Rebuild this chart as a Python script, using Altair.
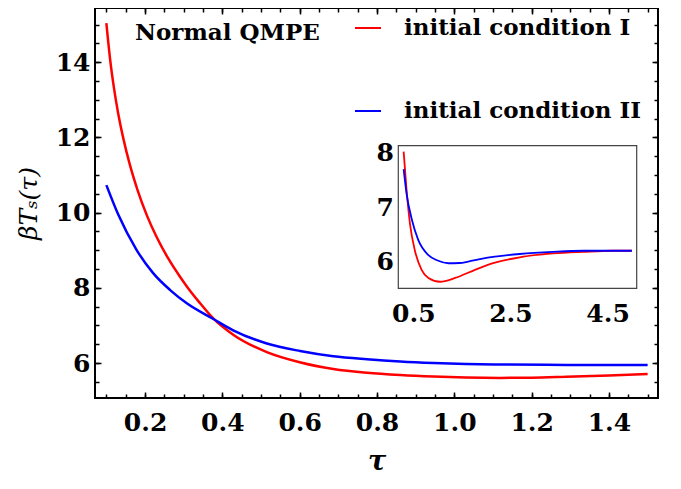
import altair as alt
import pandas as pd

FONT = "DejaVu Serif"

series_names = ["initial condition I", "initial condition II"]
series_colors = ["#ff0000", "#0000ff"]

# ---- main panel data ----
main_red_tau = [0.100, 0.110, 0.120, 0.130, 0.145, 0.160, 0.180, 0.205, 0.230, 0.260, 0.290,
                0.310, 0.340, 0.377, 0.430, 0.515, 0.600, 0.687, 0.774, 0.860, 0.946, 1.030,
                1.119, 1.200, 1.290, 1.400, 1.500]
main_red_val = [15.04, 14.05, 13.29, 12.67, 11.92, 11.30, 10.62, 9.92, 9.35, 8.78, 8.30,
                8.01, 7.62, 7.18, 6.74, 6.29, 6.02, 5.84, 5.74, 5.68, 5.64, 5.615,
                5.605, 5.61, 5.635, 5.67, 5.71]
main_blue_tau = [0.100, 0.131, 0.178, 0.221, 0.265, 0.308, 0.377, 0.428, 0.515, 0.601, 0.687,
                 0.774, 0.860, 0.946, 1.030, 1.119, 1.290, 1.500]
main_blue_val = [10.73, 9.94, 9.01, 8.39, 7.94, 7.59, 7.17, 6.87, 6.52, 6.32, 6.18,
                 6.10, 6.04, 6.00, 5.975, 5.96, 5.95, 5.95]

# ---- inset data ----
inset_red_tau = [0.30, 0.36, 0.43, 0.53, 0.67, 0.81, 1.05, 1.36, 1.77, 2.18, 2.69, 3.38,
                 4.00, 4.60, 5.00]
inset_red_val = [8.02, 7.32, 6.70, 6.21, 5.85, 5.70, 5.63, 5.70, 5.85, 5.98, 6.08, 6.15,
                 6.18, 6.20, 6.20]
inset_blue_tau = [0.30, 0.36, 0.47, 0.60, 0.81, 1.00, 1.22, 1.45, 1.63, 1.90, 2.18, 2.69,
                  3.38, 4.00, 5.00]
inset_blue_val = [7.70, 7.25, 6.77, 6.40, 6.12, 6.02, 5.97, 5.975, 6.00, 6.05, 6.09, 6.14,
                  6.18, 6.20, 6.20]

# ---- axes ----
main_x_domain = [0.0706, 1.5268]
main_y_domain = [5.07, 15.44]
inset_x_domain = [0.19, 5.10]
inset_y_domain = [5.51, 8.13]
inset_x_range = [303.3, 541.7]
inset_y_range = [280.3, 137.7]

x_major = [0.2, 0.4, 0.6, 0.8, 1.0, 1.2, 1.4]
x_minor = [0.10, 0.15, 0.20, 0.25, 0.30, 0.35, 0.40, 0.45, 0.50, 0.55, 0.60, 0.65, 0.70,
           0.75, 0.80, 0.85, 0.90, 0.95, 1.00, 1.05, 1.10, 1.15, 1.20, 1.25, 1.30, 1.35,
           1.40, 1.45, 1.50]
y_major = [6, 8, 10, 12, 14]
y_minor = [5.5, 6.0, 6.5, 7.0, 7.5, 8.0, 8.5, 9.0, 9.5, 10.0, 10.5, 11.0, 11.5, 12.0,
           12.5, 13.0, 13.5, 14.0, 14.5, 15.0]
inset_x_ticks = [0.5, 2.5, 4.5]
inset_y_ticks = [6, 7, 8]

note_text = ["Normal QMPE"]
note_tau = [0.413]
note_val = [14.59]


def frame(taus, vals, name):
    return pd.DataFrame({"tau": taus, "val": vals, "series": name})


main_df = pd.concat([frame(main_red_tau, main_red_val, series_names[0]),
                     frame(main_blue_tau, main_blue_val, series_names[1])])
inset_df = pd.concat([frame(inset_red_tau, inset_red_val, series_names[0]),
                      frame(inset_blue_tau, inset_blue_val, series_names[1])])
inset_box = pd.DataFrame({"x0": [inset_x_domain[0]], "x1": [inset_x_domain[1]],
                          "y0": [inset_y_domain[0]], "y1": [inset_y_domain[1]]})
note_df = pd.DataFrame({"tau": note_tau, "val": note_val, "label": note_text})

label_style = dict(labelFont=FONT, labelFontSize=25, labelFontWeight="bold",
                   labelColor="black", tickColor="black", grid=False, domain=False,
                   labelFlush=False, ticks=True, tickOpacity=1)


def mx():
    return alt.Scale(domain=main_x_domain, nice=False, zero=False)


def my():
    return alt.Scale(domain=main_y_domain, nice=False, zero=False)


color_enc = alt.Color(
    "series:N",
    scale=alt.Scale(domain=series_names, range=series_colors),
    legend=alt.Legend(title=None, orient="none", legendX=259, legendY=6,
                      symbolType="stroke", symbolSize=676, symbolStrokeWidth=2,
                      labelFont=FONT, labelFontSize=23, labelFontWeight="bold",
                      labelColor="black", labelOffset=22, rowPadding=57, padding=0,
                      labelLimit=400),
)

main_lines = alt.Chart(main_df).mark_line(strokeWidth=2.5, interpolate="monotone").encode(
    x=alt.X("tau:Q", scale=mx(), axis=alt.Axis(
        orient="bottom", values=x_major, format=".1f", offset=-6, tickSize=6, tickWidth=1.5,
        labelPadding=12, title="τ", titleFont=FONT, titleFontSize=27, titleFontWeight="bold",
        titleFontStyle="italic", titleColor="black", titlePadding=13, **label_style)),
    y=alt.Y("val:Q", scale=my(), axis=alt.Axis(
        orient="left", values=y_major, format="d", offset=-6, tickSize=6, tickWidth=1.5,
        labelPadding=5, title="βTₛ(τ)", titleFont=FONT, titleFontSize=25,
        titleFontWeight="normal", titleFontStyle="italic", titleColor="black",
        titlePadding=14, **label_style)),
    color=color_enc,
)

note = alt.Chart(note_df).mark_text(font=FONT, fontSize=23, fontWeight="bold", color="black",
                                    align="center", baseline="alphabetic").encode(
    x=alt.X("tau:Q", scale=mx()),
    y=alt.Y("val:Q", scale=my()),
    text="label:N",
)

main_group = alt.layer(main_lines, note)


def ghost(xo, yo, xv, yv, size):
    return alt.Chart(main_df).mark_point(opacity=0).encode(
        x=alt.X("tau:Q", scale=mx(), axis=alt.Axis(
            orient=xo, values=xv, labels=False, offset=-size, tickSize=size, tickWidth=1.5,
            tickColor="black", ticks=True, tickOpacity=1, grid=False, domain=False,
            title=None)),
        y=alt.Y("val:Q", scale=my(), axis=alt.Axis(
            orient=yo, values=yv, labels=False, offset=-size, tickSize=size, tickWidth=1.5,
            tickColor="black", ticks=True, tickOpacity=1, grid=False, domain=False,
            title=None)),
    )


ghost_major_tr = ghost("top", "right", x_major, y_major, 6)
ghost_minor_bl = ghost("bottom", "left", x_minor, y_minor, 4)
ghost_minor_tr = ghost("top", "right", x_minor, y_minor, 4)


def inset_x_axis():
    return alt.Axis(orient="bottom", values=inset_x_ticks, format=".1f",
                    offset=-(390 - inset_y_range[0]) - 4, tickSize=4, tickWidth=1.2,
                    labelPadding=13, title=None, **label_style)


def inset_y_axis():
    return alt.Axis(orient="left", values=inset_y_ticks, format="d",
                    offset=-inset_x_range[0] - 4, tickSize=4, tickWidth=1.2,
                    labelPadding=5, title=None, **label_style)


def ix():
    return alt.Scale(domain=inset_x_domain, range=inset_x_range, nice=False, zero=False)


def iy():
    return alt.Scale(domain=inset_y_domain, range=inset_y_range, nice=False, zero=False)


inset_frame = alt.Chart(inset_box).mark_rect(fill="white", stroke="#444444", strokeWidth=1.2).encode(
    x=alt.X("x0:Q", scale=ix(), axis=inset_x_axis()),
    x2="x1:Q",
    y=alt.Y("y0:Q", scale=iy(), axis=inset_y_axis()),
    y2="y1:Q",
)

inset_lines = alt.Chart(inset_df).mark_line(strokeWidth=1.8, interpolate="monotone").encode(
    x=alt.X("tau:Q", scale=ix(), axis=inset_x_axis()),
    y=alt.Y("val:Q", scale=iy(), axis=inset_y_axis()),
    color=color_enc,
)

inset = alt.layer(inset_frame, inset_lines)

chart = alt.layer(main_group, ghost_major_tr, ghost_minor_bl, ghost_minor_tr, inset).resolve_scale(
    x="independent", y="independent"
).properties(
    width=563, height=390,
    autosize=alt.AutoSizeParams(type="none"),
    padding={"left": 87, "top": 0, "right": 10, "bottom": 82},
    background="white",
).configure_view(stroke="black", strokeWidth=2)

chart.save("out.html", embed_options={"renderer": "svg", "actions": False})
